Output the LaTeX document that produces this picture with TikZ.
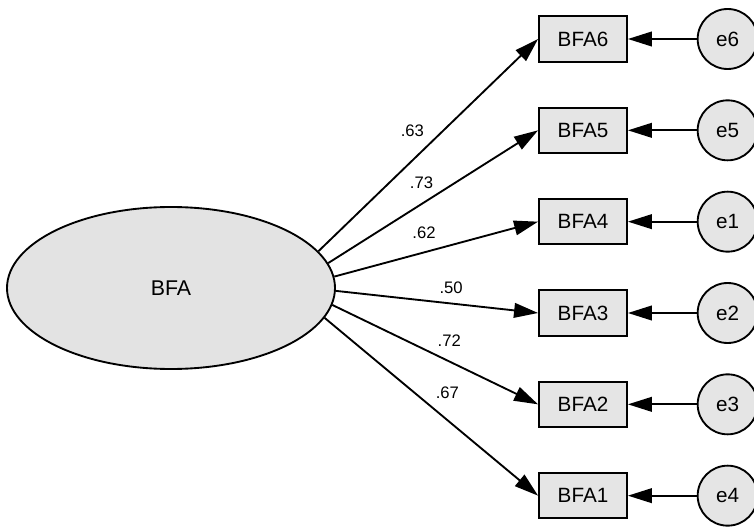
\documentclass[tikz,border=0pt]{standalone}
\usepackage{fontspec}
\setmainfont{Liberation Sans}
\usepackage{tikz}
\usetikzlibrary{positioning, arrows.meta, shapes}
\tikzstyle{latent} = [ellipse, minimum width=246pt, minimum height=121.5pt, text centered, draw=black, line width=1.4pt, fill=gray!22, font=\fontsize{16}{18}\selectfont]
\tikzstyle{observed} = [rectangle, minimum width=66pt, minimum height=34pt, text centered, draw=black, line width=1.4pt, fill=gray!20, font=\fontsize{15.5}{17}\selectfont]
\tikzstyle{errvar} = [circle, minimum size=45pt, text centered, draw=black, line width=1.4pt, fill=gray!20, font=\fontsize{15.5}{17}\selectfont]
\tikzstyle{arrow} = [line width=1.4pt, -{Triangle[length=18pt,width=11pt]}]
\tikzstyle{coef} = [inner sep=1pt, font=\fontsize{12.5}{14}\selectfont]

\begin{document}
\begin{tikzpicture}[x=0.75pt, y=-0.75pt, node distance=68.5pt]
            \useasboundingbox (0,0) rectangle (754,531);
            \node (bfa) [latent] at (171,288) {BFA};
            \node (bfa6) [observed] at (583,39) {BFA6};
            \node (bfa5) [observed, below of=bfa6] {BFA5};
            \node (bfa4) [observed, below of=bfa5] {BFA4};
            \node (bfa3) [observed, below of=bfa4] {BFA3};
            \node (bfa2) [observed, below of=bfa3] {BFA2};
            \node (bfa1) [observed, below of=bfa2] {BFA1};
            \node (e6) [errvar, right of=bfa6, xshift=40pt] {e6};
            \node (e5) [errvar, right of=bfa5, xshift=40pt] {e5};
            \node (e1) [errvar, right of=bfa4, xshift=40pt] {e1};
            \node (e2) [errvar, right of=bfa3, xshift=40pt] {e2};
            \node (e3) [errvar, right of=bfa2, xshift=40pt] {e3};
            \node (e4) [errvar, right of=bfa1, xshift=40pt] {e4};

            \draw [arrow] (bfa.14) -- node[coef, pos=0.57, left=13pt]{.63} (bfa6.west);
            \draw [arrow] (bfa.9) -- node[coef, pos=0.445, above=10pt]{.73} (bfa5.west);
            \draw [arrow] (bfa.4.5) -- node[coef, pos=0.44, above=8.3pt]{.62} (bfa4.west);
            \draw [arrow] (bfa.-1) -- node[coef, pos=0.57, above=5.5pt]{.50} (bfa3.west);
            \draw [arrow] (bfa.-6) -- node[coef, pos=0.568, above=9.5pt]{.72} (bfa2.west);
            \draw [arrow] (bfa.-11) -- node[coef, pos=0.575, above=14pt]{.67} (bfa1.west);

            \draw [arrow] (e6) -- (bfa6);
            \draw [arrow] (e5) -- (bfa5);
            \draw [arrow] (e1) -- (bfa4);
            \draw [arrow] (e2) -- (bfa3);
            \draw [arrow] (e3) -- (bfa2);
            \draw [arrow] (e4) -- (bfa1);

\end{tikzpicture}
\end{document}
